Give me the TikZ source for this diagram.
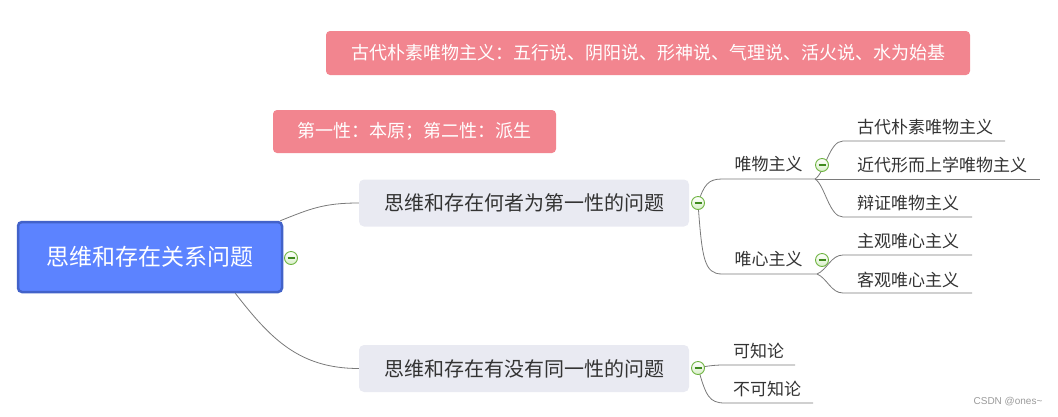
\documentclass[tikz,border=0pt]{standalone}
\usepackage{fontspec}
\setmainfont{Noto Sans CJK SC}
\newfontfamily\wmfont{Liberation Sans}
\definecolor{rootfill}{HTML}{5C83FF}
\definecolor{rootdraw}{HTML}{4262C9}
\definecolor{subfill}{HTML}{E9EAF2}
\definecolor{pinkfill}{HTML}{F2858F}
\definecolor{linec}{HTML}{7A7A7A}
\definecolor{txt}{HTML}{333333}
\definecolor{btngreen}{HTML}{6DB33F}
\definecolor{btnfill}{HTML}{D9EFC8}
\definecolor{btndark}{HTML}{3F8A1E}
\definecolor{wmgray}{HTML}{9A9A9A}
\begin{document}
\begin{tikzpicture}[x=1pt,y=-1pt,
  rootbox/.style={draw=rootdraw, line width=2.5pt, fill=rootfill, rounded corners=4pt,
    minimum width=264pt, minimum height=70pt, inner sep=0pt, text=white, font=\fontsize{23pt}{26pt}\selectfont},
  subbox/.style={fill=subfill, rounded corners=5pt, minimum width=330pt, minimum height=47pt,
    inner sep=0pt, text=txt, font=\fontsize{20pt}{24pt}\selectfont},
  callout/.style={fill=pinkfill, rounded corners=4pt, inner sep=0pt, text=white,
    font=\fontsize{18pt}{22pt}\selectfont},
  leaf/.style={inner sep=0pt, text=txt, font=\fontsize{17pt}{20pt}\selectfont},
  conn/.style={draw=linec, line width=0.8pt},
  btn/.style={circle, draw=btngreen, line width=0.9pt, top color=white, bottom color=btnfill,
    minimum size=13pt, inner sep=0pt,
    path picture={\draw[btndark, line width=1.1pt] ([xshift=-3.5pt]path picture bounding box.center) -- ([xshift=3.5pt]path picture bounding box.center);}}
]
\useasboundingbox (0,0) rectangle (1058,416);

% callouts
\node[callout, minimum width=644pt, minimum height=44pt] (c1) at (648,53) {古代朴素唯物主义：五行说、阴阳说、形神说、气理说、活火说、水为始基};
\node[callout, minimum width=283pt, minimum height=43pt] (c2) at (414.5,131.5) {第一性：本原；第二性：派生};

% main nodes
\node[rootbox] (root) at (150,257) {思维和存在关系问题};
\node[subbox] (b1) at (524,203) {思维和存在何者为第一性的问题};
\node[subbox] (b2) at (524,368.5) {思维和存在有没有同一性的问题};

% button positions
\coordinate (p0) at (291,258);
\coordinate (p1) at (698,203);
\coordinate (p2) at (698,368);
\coordinate (p3) at (822,165);
\coordinate (p4) at (822,260);

% underline coordinates
\coordinate (wuL) at (722,179); \coordinate (wuR) at (815,179);
\coordinate (wxL) at (722,274); \coordinate (wxR) at (817,274);
\coordinate (l1L) at (843,141); \coordinate (l1R) at (1005,141);
\coordinate (l2R) at (1040,179);
\coordinate (l3L) at (843,217); \coordinate (l3R) at (972,217);
\coordinate (l4L) at (843,255); \coordinate (l4R) at (972,255);
\coordinate (l5L) at (843,293); \coordinate (l5R) at (972,293);
\coordinate (k1L) at (723,365); \coordinate (k1R) at (795,365);
\coordinate (k2L) at (725,403); \coordinate (k2R) at (813,403);

% connectors from root
\draw[conn] ([xshift=-3pt]root.north east) .. controls +(30,-12) and +(-35,0) .. (b1.west);
\draw[conn] ([xshift=-48pt]root.south east) .. controls +(35,45) and +(-60,0) .. (b2.west);

% branch 1
\draw[conn] (p1) .. controls +(6,-18) and +(-14,0) .. (wuL) -- (wuR);
\draw[conn] (p1) .. controls +(4,55) and +(-18,0) .. (wxL) -- (wxR);
\draw[conn] (wuR) .. controls +(10,-6) and +(-14,0) .. (l1L) -- (l1R);
\draw[conn] (wuR) -- (l2R);
\draw[conn] (wuR) .. controls +(10,6) and +(-14,0) .. (l3L) -- (l3R);
\draw[conn] (wxR) .. controls +(10,-4) and +(-12,0) .. (l4L) -- (l4R);
\draw[conn] (wxR) .. controls +(10,4) and +(-12,0) .. (l5L) -- (l5R);

% branch 2
\draw[conn] (p2) .. controls +(8,-2) and +(-8,0) .. (k1L) -- (k1R);
\draw[conn] (p2) .. controls +(8,28) and +(-16,0) .. (k2L) -- (k2R);

% labels
\node[leaf] (wu) at (768.5,164.5) {唯物主义};
\node[leaf] (wx) at (768.5,259.5) {唯心主义};
\node[leaf, anchor=west] (t1) at (857,127.5) {古代朴素唯物主义};
\node[leaf, anchor=west] (t2) at (857,165) {近代形而上学唯物主义};
\node[leaf, anchor=west] (t3) at (857,203) {辩证唯物主义};
\node[leaf, anchor=west] (t4) at (857,241.5) {主观唯心主义};
\node[leaf, anchor=west] (t5) at (857,279.5) {客观唯心主义};
\node[leaf, anchor=west] (k1) at (733,350.5) {可知论};
\node[leaf, anchor=west] (k2) at (733,388.5) {不可知论};

% buttons
\node[btn] (btn0) at (p0) {};
\node[btn] (btn1) at (p1) {};
\node[btn] (btn2) at (p2) {};
\node[btn] (btn3) at (p3) {};
\node[btn] (btn4) at (p4) {};

% watermark
\node[inner sep=0pt, text=wmgray, font=\wmfont\fontsize{10pt}{12pt}\selectfont] (wm) at (1008,402) {CSDN @ones\textasciitilde};
\end{tikzpicture}
\end{document}
